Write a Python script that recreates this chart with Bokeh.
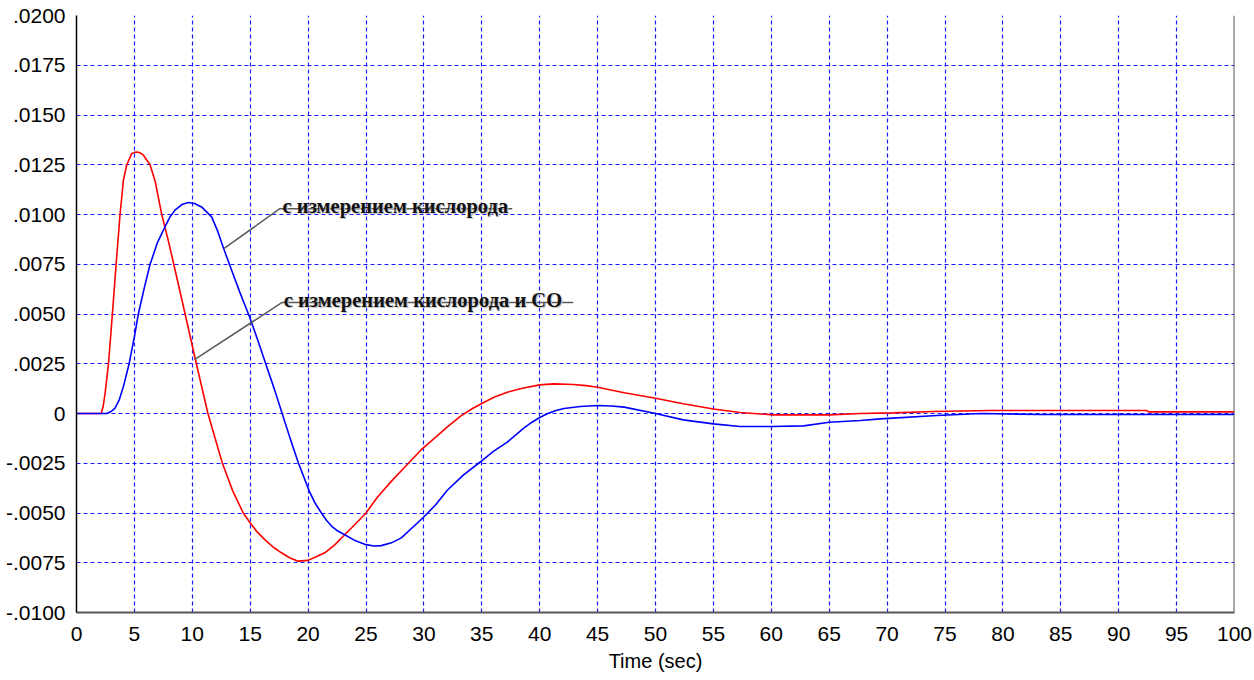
from bokeh.plotting import figure
from bokeh.models import Range1d, FixedTicker, Span
from bokeh.embed import file_html
from bokeh.resources import INLINE
from bokeh.core.properties import value

# ---- data (values in units of 0.001) ----
red_x = [0, 2.13, 2.3, 2.47, 2.76, 3.10, 3.42, 3.76, 4.05, 4.34, 4.77, 5.0, 5.23, 5.5, 5.78,
         6.35, 6.78, 7.36, 7.9, 8.4, 9.38, 10.35, 11.35, 12.59, 13.5, 14.4, 15.0, 15.6, 16.26,
         17.0, 17.7, 18.4, 19.14, 20.0, 20.7, 21.44, 22.3, 23.16, 24.0, 25.0, 26.0, 27.18,
         28.5, 29.77, 31.0, 32.0, 33.2, 34.2, 35.0, 36.0, 37.2, 38.5, 40.0, 41.2, 42.9, 44.0,
         45.0, 47.3, 50.0, 52.4, 55.0, 57.3, 60.2, 65.0, 67.7, 70.5, 74.0, 78.9, 92.4, 92.6, 100]
red_v = [0, 0, 0.35, 1.02, 2.49, 5.0, 7.49, 10.0, 11.72, 12.5, 13.06, 13.12, 13.14, 13.1, 12.98,
         12.5, 11.7, 10.0, 8.75, 7.5, 5.0, 2.5, 0, -2.49, -3.9, -5.0, -5.5, -5.95, -6.34,
         -6.72, -7.0, -7.25, -7.42, -7.38, -7.2, -7.0, -6.6, -6.09, -5.6, -5.0, -4.2, -3.41,
         -2.6, -1.82, -1.2, -0.68, -0.12, 0.25, 0.5, 0.8, 1.07, 1.27, 1.44, 1.49, 1.46, 1.4,
         1.32, 1.04, 0.77, 0.49, 0.23, 0.05, -0.07, -0.07, 0, 0.03, 0.1, 0.15, 0.15, 0.08, 0.08]

blue_x = [0, 2.61, 3.0, 3.33, 3.7, 4.05, 4.54, 5.0, 5.34, 5.85, 6.35, 7.0, 7.64, 8.1, 8.51, 9.1,
          9.66, 10.2, 10.8, 11.67, 12.2, 12.7, 13.3, 14.1, 14.95, 15.7, 16.4, 17.1, 17.76, 18.45,
          19.14, 20.1, 20.6, 21.15, 21.6, 22.1, 22.6, 23.16, 24.1, 25.0, 25.7, 26.32, 27.2, 28.05,
          29.9, 31.0, 32.0, 33.4, 34.83, 36.0, 37.2, 38.6, 39.3, 40.0, 40.7, 41.4, 42.1, 43.5,
          45.0, 46.2, 47.3, 50.0, 52.4, 55.0, 57.3, 60.0, 62.8, 65.0, 67.7, 69.4, 74.3, 78.1,
          83.3, 100]
blue_v = [0, 0, 0.1, 0.27, 0.7, 1.35, 2.49, 3.86, 5.0, 6.3, 7.49, 8.6, 9.38, 9.9, 10.22, 10.5,
          10.6, 10.55, 10.38, 9.88, 9.15, 8.3, 7.35, 6.1, 4.85, 3.6, 2.4, 1.2, 0, -1.25,
          -2.45, -3.9, -4.5, -5.0, -5.38, -5.7, -5.92, -6.09, -6.4, -6.59, -6.66, -6.64, -6.5,
          -6.25, -5.25, -4.6, -3.87, -3.1, -2.45, -1.9, -1.44, -0.75, -0.45, -0.2, 0.0, 0.15,
          0.25, 0.35, 0.40, 0.38, 0.32, 0, -0.32, -0.52, -0.65, -0.65, -0.62, -0.44, -0.35,
          -0.27, -0.1, 0, -0.05, -0.05]

x_ticks = [0, 5, 10, 15, 20, 25, 30, 35, 40, 45, 50, 55, 60, 65, 70, 75, 80, 85, 90, 95, 100]
y_ticks = [-0.01, -0.0075, -0.005, -0.0025, 0, 0.0025, 0.005, 0.0075, 0.01, 0.0125, 0.015,
           0.0175, 0.02]
y_tick_labels = ["-.0100", "-.0075", "-.0050", "-.0025", "0", ".0025", ".0050", ".0075",
                 ".0100", ".0125", ".0150", ".0175", ".0200"]

# annotations: text, leader line (x, y in 0.001 units), underline end x
ann_texts = ["с измерением кислорода", "с измерением кислорода и СО"]
ann_lead_x = [[12.72, 17.56], [10.19, 17.76]]
ann_lead_v = [[8.28, 10.29], [2.71, 5.58]]
ann_under_end = [37.63, 42.89]
ann_text_x = [17.8, 17.9]
ann_text_v = [10.42, 5.7]

SCALE = 0.001
red_y = [v * SCALE for v in red_v]
blue_y = [v * SCALE for v in blue_v]

p = figure(width=1254, height=680, output_backend="svg", toolbar_location=None,
           x_range=Range1d(0, 100), y_range=Range1d(-0.01, 0.02),
           min_border_left=76, min_border_right=20, min_border_top=15, min_border_bottom=68)
p.outline_line_color = None
p.background_fill_color = "white"
p.border_fill_color = "white"

# grid
for g in (p.xgrid, p.ygrid):
    g.grid_line_color = "#1a1aff"
    g.grid_line_dash = "4 3"
    g.grid_line_width = 1.2
p.xaxis.ticker = FixedTicker(ticks=x_ticks)
p.yaxis.ticker = FixedTicker(ticks=y_ticks)
p.yaxis.major_label_overrides = {t: l for t, l in zip(y_ticks, y_tick_labels)}

for ax in (p.xaxis, p.yaxis):
    ax.major_tick_line_color = None
    ax.minor_tick_line_color = None
    ax.major_label_text_font = "Liberation Sans"
    ax.major_label_text_font_size = "21px"
    ax.major_label_text_color = "black"
p.yaxis.axis_line_color = "black"
p.yaxis.axis_line_width = 1.5
p.yaxis.major_label_standoff = 5
p.xaxis.axis_line_color = "#555555"
p.xaxis.axis_line_width = 2
p.xaxis.major_label_standoff = 8
p.xaxis.axis_label = "Time (sec)"
p.xaxis.axis_label_text_font = "Liberation Sans"
p.xaxis.axis_label_text_font_size = "20px"
p.xaxis.axis_label_text_font_style = "normal"
p.xaxis.axis_label_text_color = "black"
p.xaxis.axis_label_standoff = 6

# right border
p.add_layout(Span(location=100, dimension="height", line_color="#555555", line_width=2))

# curves
p.line(red_x, red_y, line_color="#ff0000", line_width=1.6)
p.line(blue_x, blue_y, line_color="#0000ff", line_width=1.6)

# annotations
for i in range(len(ann_texts)):
    lx = [ann_lead_x[i][0], ann_lead_x[i][1], ann_under_end[i]]
    ly = [ann_lead_v[i][0] * SCALE, ann_lead_v[i][1] * SCALE, ann_lead_v[i][1] * SCALE]
    p.line(lx, ly, line_color="#5a5a5a", line_width=1.5)
    p.text([ann_text_x[i]], [ann_text_v[i] * SCALE], text=[ann_texts[i]], x_offset=1.2, y_offset=1.2,
           text_font=value("Liberation Serif"), text_font_style="bold", text_font_size="20.5px",
           text_color="#c4c4c4", text_baseline="alphabetic", text_align="left")
    p.text([ann_text_x[i]], [ann_text_v[i] * SCALE], text=[ann_texts[i]],
           text_font=value("Liberation Serif"), text_font_style="bold", text_font_size="20.5px",
           text_color="#111111", text_baseline="alphabetic", text_align="left")

open("out.html", "w").write(file_html(p, INLINE))
